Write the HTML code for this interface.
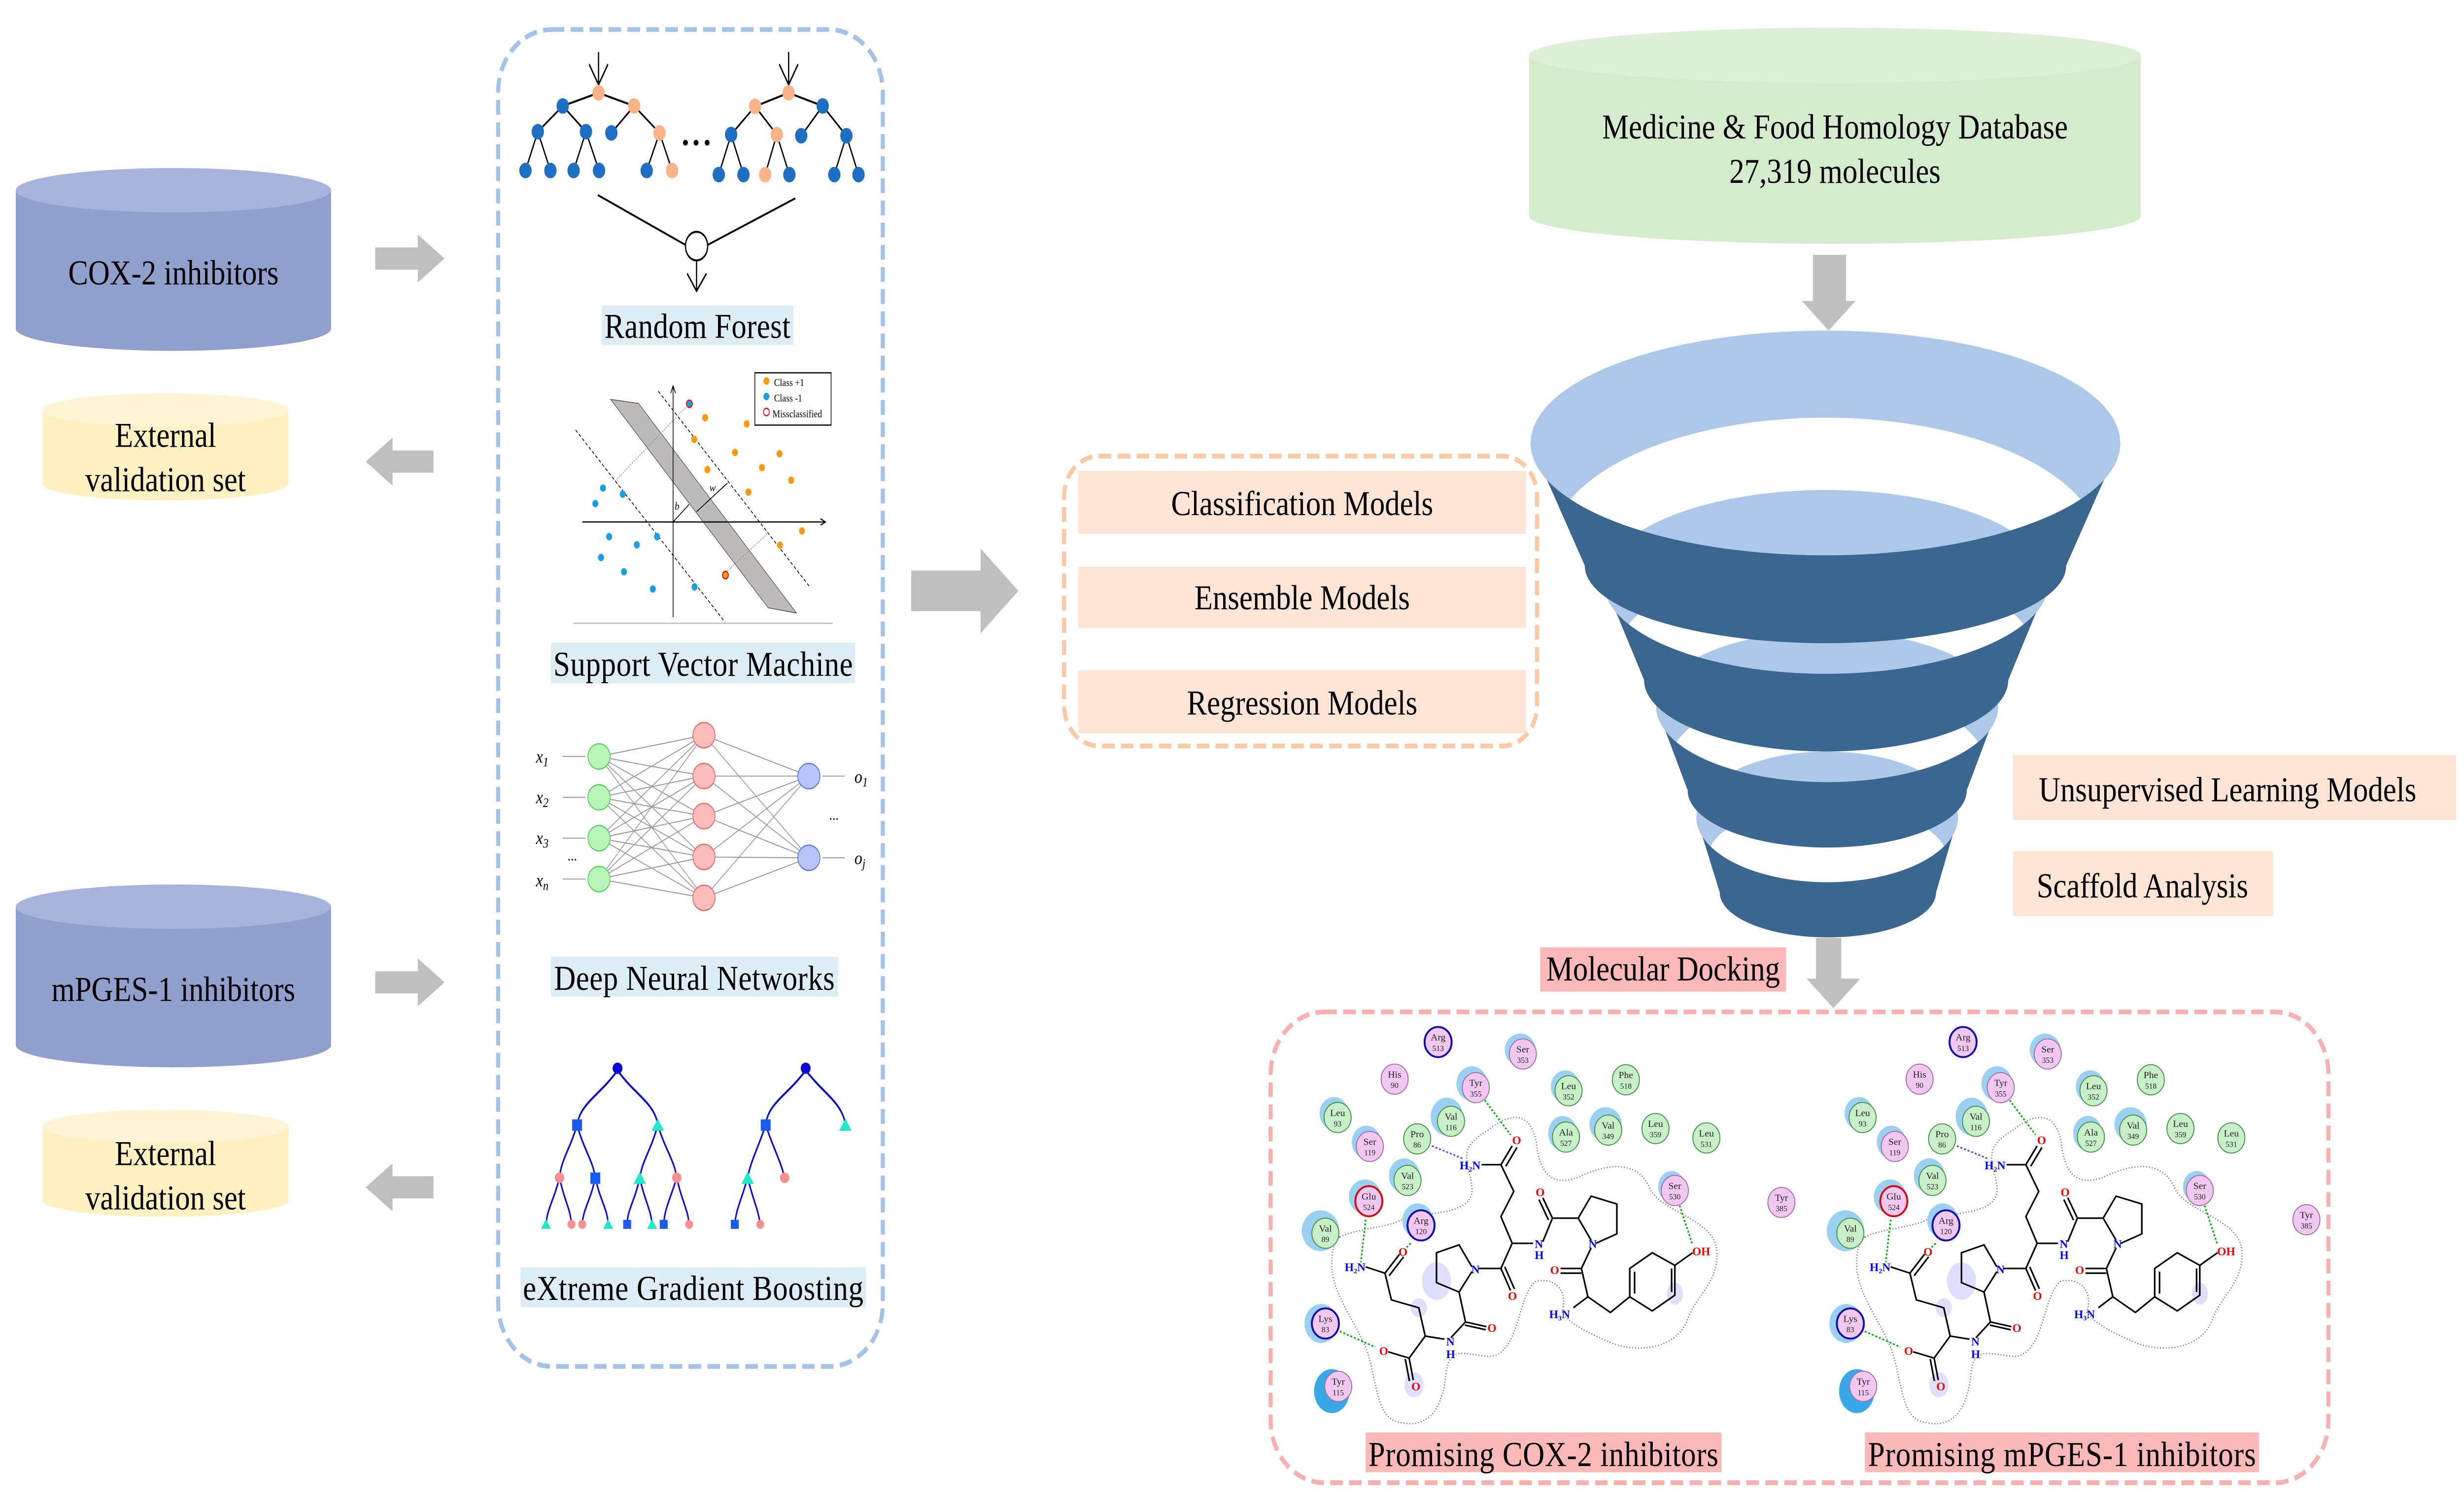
<!DOCTYPE html>
<html><head><meta charset="utf-8">
<style>
html,body{margin:0;padding:0;background:#fff;overflow:hidden;width:100vw;height:100vh;}
svg{display:block;width:100vw;height:100vh;}
text{font-family:"Liberation Serif",serif;}
</style></head>
<body>
<svg xmlns="http://www.w3.org/2000/svg" viewBox="0 0 1563 814.5" preserveAspectRatio="none">
<rect width="1563" height="814.5" fill="#fff"/>

<g>
  <path d="M10,103 L10,178 A100,12 0 0,0 210,178 L210,103 Z" fill="#919fcd"/>
  <ellipse cx="110" cy="103" rx="100" ry="12" fill="#a7b3da"/>
  <text x="110" y="154" font-size="19" text-anchor="middle">COX-2 inhibitors</text>

  <path d="M27,222 L27,262 A78,9 0 0,0 183,262 L183,222 Z" fill="#fff0c2"/>
  <ellipse cx="105" cy="222" rx="78" ry="9" fill="#fff5d6"/>
  <text x="105" y="242" font-size="19" text-anchor="middle">External</text>
  <text x="105" y="266" font-size="19" text-anchor="middle">validation set</text>

  <path d="M10,491 L10,566 A100,12 0 0,0 210,566 L210,491 Z" fill="#919fcd"/>
  <ellipse cx="110" cy="491" rx="100" ry="12" fill="#a7b3da"/>
  <text x="110" y="542" font-size="19" text-anchor="middle">mPGES-1 inhibitors</text>

  <path d="M27,610 L27,650 A78,9 0 0,0 183,650 L183,610 Z" fill="#fff0c2"/>
  <ellipse cx="105" cy="610" rx="78" ry="9" fill="#fff5d6"/>
  <text x="105" y="631" font-size="19" text-anchor="middle">External</text>
  <text x="105" y="655" font-size="19" text-anchor="middle">validation set</text>
</g>

<g fill="#bfbfbf">
  <polygon points="238,134 265,134 265,127 282,140 265,153 265,146 238,146"/>
  <polygon points="275,244 249,244 249,237 232,250 249,263 249,256 275,256"/>
  <polygon points="238,526 265,526 265,519 282,532 265,545 265,538 238,538"/>
  <polygon points="275,637 249,637 249,630 232,643 249,656 249,649 275,649"/>
  <polygon points="578,309 622,309 622,297 646,320 622,343 622,331 578,331"/>
  <polygon points="1150,138 1171,138 1171,163 1177,163 1160,179 1143,163 1150,163"/>
  <polygon points="1152,508 1168,508 1168,530 1180,530 1163,546 1146,530 1152,530"/>
</g>

<rect x="316" y="16" width="244" height="724" rx="34" fill="none" stroke="#a4c2e6" stroke-width="2.6" stroke-dasharray="8,4"/>

<g transform="translate(315,16) scale(0.1566,0.2213)">
  <g stroke="#000" stroke-width="5" fill="none">
    <path d="M413,155 L268,187 M413,155 L557,187 M268,187 L167,250 M268,187 L362,250 M557,187 L465,253 M557,187 L660,253 M167,250 L117,345 M167,250 L218,345 M362,250 L312,345 M362,250 L415,345 M660,253 L608,345 M660,253 L711,345"/>
    <path d="M1183,155 L1047,188 M1183,155 L1321,187 M1047,188 L950,257 M1047,188 L1135,257 M1321,187 L1234,260 M1321,187 L1417,260 M950,257 L900,355 M950,257 L1000,355 M1135,257 L1088,355 M1135,257 L1186,355 M1417,260 L1368,355 M1417,260 L1466,355"/>
    <path d="M413,55 L413,135 M375,85 L413,135 L451,85 M1183,55 L1183,135 M1145,85 L1183,135 L1221,85"/>
    <path d="M410,405 L765,527 M1210,413 L855,527 M810,565 L810,640 M772,597 L810,640 L850,597"/>
  </g>
  <ellipse cx="810" cy="530" rx="45" ry="35" fill="#fff" stroke="#000" stroke-width="5"/>
  <g fill="#1f6fc5">
    <ellipse cx="268" cy="187" rx="25" ry="19"/><ellipse cx="167" cy="250" rx="25" ry="19"/><ellipse cx="362" cy="250" rx="25" ry="19"/><ellipse cx="465" cy="253" rx="25" ry="19"/>
    <ellipse cx="117" cy="345" rx="25" ry="19"/><ellipse cx="218" cy="345" rx="25" ry="19"/><ellipse cx="312" cy="345" rx="25" ry="19"/><ellipse cx="415" cy="345" rx="25" ry="19"/><ellipse cx="608" cy="345" rx="25" ry="19"/>
    <ellipse cx="1321" cy="187" rx="25" ry="19"/><ellipse cx="950" cy="257" rx="25" ry="19"/><ellipse cx="1234" cy="260" rx="25" ry="19"/><ellipse cx="1417" cy="260" rx="25" ry="19"/>
    <ellipse cx="900" cy="355" rx="25" ry="19"/><ellipse cx="1000" cy="355" rx="25" ry="19"/><ellipse cx="1186" cy="355" rx="25" ry="19"/><ellipse cx="1368" cy="355" rx="25" ry="19"/><ellipse cx="1466" cy="355" rx="25" ry="19"/>
  </g>
  <g fill="#fbb48a">
    <ellipse cx="413" cy="155" rx="25" ry="19"/><ellipse cx="557" cy="187" rx="25" ry="19"/><ellipse cx="660" cy="253" rx="25" ry="19"/><ellipse cx="711" cy="345" rx="25" ry="19"/>
    <ellipse cx="1183" cy="155" rx="25" ry="19"/><ellipse cx="1047" cy="188" rx="25" ry="19"/><ellipse cx="1135" cy="257" rx="25" ry="19"/><ellipse cx="1088" cy="355" rx="25" ry="19"/>
  </g>
  <g fill="#000"><ellipse cx="765" cy="277" rx="10" ry="7"/><ellipse cx="808" cy="277" rx="10" ry="7"/><ellipse cx="853" cy="277" rx="10" ry="7"/></g>

  <line x1="312" y1="1453" x2="1362" y2="1453" stroke="#bbb" stroke-width="3"/>
  <polygon points="462,905 575,915 1215,1428 1100,1415" fill="#bdbaba" stroke="#555" stroke-width="2"/>
  <g stroke="#000" stroke-width="3" fill="none">
    <path d="M715,1438 L715,875 M705,890 L715,872 L725,890"/>
    <path d="M347,1205 L1330,1205 M1312,1197 L1332,1205 L1312,1213"/>
    <path d="M655,885 L1270,1365 M320,980 L925,1450" stroke-dasharray="10,7" stroke-width="2.5"/>
    <path d="M715,1205 L780,1162 M810,1180 L935,1110" stroke-width="2.5"/>
    <path d="M480,1105 L770,922 M935,1325 L1100,1232" stroke="#888" stroke-width="2" stroke-dasharray="5,4"/>
  </g>
  <rect x="1046" y="840" width="309" height="128" fill="#fff" stroke="#000" stroke-width="3"/>
  <ellipse cx="1093" cy="860" rx="12" ry="9" fill="#f79a10"/>
  <ellipse cx="1093" cy="898" rx="12" ry="9" fill="#1aa0e0"/>
  <ellipse cx="1093" cy="936" rx="12" ry="9" fill="#fff" stroke="#e00" stroke-width="3"/>
  <g fill="#f79a10">
    <ellipse cx="845" cy="950" rx="12" ry="9"/><ellipse cx="1013" cy="965" rx="12" ry="9"/><ellipse cx="801" cy="1003" rx="12" ry="9"/><ellipse cx="966" cy="1035" rx="12" ry="9"/><ellipse cx="1146" cy="1038" rx="12" ry="9"/><ellipse cx="854" cy="1077" rx="12" ry="9"/><ellipse cx="1075" cy="1072" rx="12" ry="9"/><ellipse cx="1193" cy="1103" rx="12" ry="9"/><ellipse cx="1020" cy="1132" rx="12" ry="9"/><ellipse cx="1237" cy="1227" rx="12" ry="9"/><ellipse cx="1148" cy="1262" rx="12" ry="9"/><ellipse cx="927" cy="1335" rx="12" ry="9" stroke="#e00" stroke-width="3"/>
  </g>
  <g fill="#1aa0e0">
    <ellipse cx="781" cy="916" rx="12" ry="9" stroke="#e00" stroke-width="3"/><ellipse cx="431" cy="1122" rx="12" ry="9"/><ellipse cx="511" cy="1137" rx="12" ry="9"/><ellipse cx="400" cy="1160" rx="12" ry="9"/><ellipse cx="456" cy="1241" rx="12" ry="9"/><ellipse cx="568" cy="1261" rx="12" ry="9"/><ellipse cx="650" cy="1241" rx="12" ry="9"/><ellipse cx="423" cy="1292" rx="12" ry="9"/><ellipse cx="516" cy="1327" rx="12" ry="9"/><ellipse cx="633" cy="1369" rx="12" ry="9"/><ellipse cx="802" cy="1364" rx="12" ry="9"/>
  </g>
</g>
<g font-size="5.5">
  <text x="491" y="209">Class +1</text>
  <text x="491" y="217.5">Class  -1</text>
  <text x="490" y="226">Missclassified</text>
  <text x="428" y="276" font-style="italic" font-size="6">b</text>
  <text x="450" y="266" font-style="italic" font-size="6">w</text>
</g>

<g transform="translate(315,387.1) scale(0.1566,0.2213)">
  <g stroke="#999" stroke-width="2.5" fill="none">
    <path d="M415,102 L840,50 M415,102 L840,150 M415,102 L840,248 M415,102 L840,348 M415,102 L840,448
             M415,202 L840,50 M415,202 L840,150 M415,202 L840,248 M415,202 L840,348 M415,202 L840,448
             M415,302 L840,50 M415,302 L840,150 M415,302 L840,248 M415,302 L840,348 M415,302 L840,448
             M415,402 L840,50 M415,402 L840,150 M415,402 L840,248 M415,402 L840,348 M415,402 L840,448
             M840,50 L1265,150 M840,150 L1265,150 M840,248 L1265,150 M840,348 L1265,150 M840,448 L1265,150
             M840,50 L1265,350 M840,150 L1265,350 M840,248 L1265,350 M840,348 L1265,350 M840,448 L1265,350
             M268,102 L360,102 M268,202 L360,202 M268,302 L360,302 M268,402 L360,402
             M1320,150 L1410,150 M1320,350 L1410,350"/>
  </g>
  <g fill="#b9f5b9" stroke="#5c5" stroke-width="3">
    <ellipse cx="415" cy="102" rx="45" ry="31"/><ellipse cx="415" cy="202" rx="45" ry="31"/><ellipse cx="415" cy="302" rx="45" ry="31"/><ellipse cx="415" cy="402" rx="45" ry="31"/>
  </g>
  <g fill="#fdbcbc" stroke="#e66" stroke-width="3">
    <ellipse cx="840" cy="50" rx="45" ry="31"/><ellipse cx="840" cy="150" rx="45" ry="31"/><ellipse cx="840" cy="248" rx="45" ry="31"/><ellipse cx="840" cy="348" rx="45" ry="31"/><ellipse cx="840" cy="448" rx="45" ry="31"/>
  </g>
  <g fill="#b8c4fa" stroke="#57e" stroke-width="3">
    <ellipse cx="1265" cy="150" rx="45" ry="31"/><ellipse cx="1265" cy="350" rx="45" ry="31"/>
  </g>

  <g stroke="#1010c0" stroke-width="6" fill="none">
    <path d="M490,870 C420,930 340,950 326,1003 M490,870 C560,930 640,950 653,1003"/>
    <path d="M326,1003 C300,1060 260,1090 255,1133 M326,1003 C350,1060 390,1090 400,1133"/>
    <path d="M653,1003 C630,1060 590,1090 580,1133 M653,1003 C680,1060 720,1090 730,1133"/>
    <path d="M255,1133 C230,1190 205,1210 200,1247 M255,1133 C275,1190 300,1210 303,1247"/>
    <path d="M400,1133 C380,1190 350,1210 347,1247 M400,1133 C420,1190 450,1210 452,1247"/>
    <path d="M580,1133 C560,1190 530,1210 529,1247 M580,1133 C600,1190 625,1210 630,1247"/>
    <path d="M730,1133 C700,1190 680,1210 677,1247 M730,1133 C750,1190 775,1210 780,1247"/>
    <path d="M1252,870 C1180,930 1100,950 1090,1003 M1252,870 C1330,930 1400,950 1413,1003"/>
    <path d="M1090,1003 C1060,1060 1030,1090 1017,1133 M1090,1003 C1120,1060 1150,1090 1167,1133"/>
    <path d="M1017,1133 C990,1190 970,1210 965,1247 M1017,1133 C1040,1190 1060,1210 1068,1247"/>
  </g>
  <ellipse cx="490" cy="865" rx="20" ry="14" fill="#0a0ad0"/>
  <ellipse cx="1252" cy="865" rx="20" ry="14" fill="#0a0ad0"/>
  <g fill="#1a5cf0">
    <rect x="306" y="990" width="40" height="28"/><rect x="380" y="1120" width="40" height="28"/><rect x="513" y="1236" width="32" height="22"/><rect x="661" y="1236" width="32" height="22"/>
    <rect x="1070" y="990" width="40" height="28"/><rect x="949" y="1236" width="32" height="22"/>
  </g>
  <g fill="#20e8c8">
    <polygon points="653,988 678,1018 628,1018"/><polygon points="580,1118 605,1148 555,1148"/><polygon points="200,1234 220,1258 180,1258"/><polygon points="452,1234 472,1258 432,1258"/><polygon points="630,1234 650,1258 610,1258"/>
    <polygon points="1413,988 1438,1018 1388,1018"/><polygon points="1017,1118 1042,1148 992,1148"/>
  </g>
  <g fill="#f89090">
    <ellipse cx="255" cy="1133" rx="19" ry="13"/><ellipse cx="730" cy="1133" rx="19" ry="13"/><ellipse cx="1167" cy="1133" rx="19" ry="13"/>
    <ellipse cx="303" cy="1247" rx="16" ry="11"/><ellipse cx="347" cy="1247" rx="16" ry="11"/><ellipse cx="780" cy="1247" rx="16" ry="11"/><ellipse cx="1068" cy="1247" rx="16" ry="11"/>
  </g>
</g>
<g font-size="10" font-style="italic" font-family="Liberation Serif, serif">
  <text x="340" y="413">x<tspan font-size="7" dy="2">1</tspan></text>
  <text x="340" y="435">x<tspan font-size="7" dy="2">2</tspan></text>
  <text x="340" y="457">x<tspan font-size="7" dy="2">3</tspan></text>
  <text x="360" y="466" font-style="normal" font-size="8">...</text>
  <text x="340" y="480">x<tspan font-size="7" dy="2">n</tspan></text>
  <text x="542" y="424">o<tspan font-size="7" dy="2">1</tspan></text>
  <text x="526" y="444" font-style="normal" font-size="8">...</text>
  <text x="542" y="468">o<tspan font-size="7" dy="2">j</tspan></text>
</g>

<rect x="381.6" y="165.4" width="121.6" height="21.4" fill="#dcedf6"/>
<text x="442.4" y="183" font-size="19" text-anchor="middle" textLength="118">Random Forest</text>
<rect x="349.5" y="348" width="193" height="22" fill="#dcedf6"/>
<text x="446" y="366" font-size="19" text-anchor="middle" textLength="190">Support Vector Machine</text>
<rect x="349.5" y="518.1" width="182" height="21.7" fill="#dcedf6"/>
<text x="440.5" y="536" font-size="19" text-anchor="middle" textLength="178">Deep Neural Networks</text>
<rect x="330.2" y="686.3" width="219" height="21.7" fill="#dcedf6"/>
<text x="439.7" y="704" font-size="19" text-anchor="middle" textLength="216">eXtreme Gradient Boosting</text>

<rect x="675" y="247" width="300" height="157" rx="22" fill="none" stroke="#fcc9a6" stroke-width="2.6" stroke-dasharray="8,4"/>
<rect x="684" y="255" width="284" height="34" fill="#fde4d4"/>
<text x="826" y="279" font-size="19" text-anchor="middle">Classification Models</text>
<rect x="684" y="307" width="284" height="33" fill="#fde4d4"/>
<text x="826" y="330" font-size="19" text-anchor="middle">Ensemble Models</text>
<rect x="684" y="363" width="284" height="34" fill="#fde4d4"/>
<text x="826" y="387" font-size="19" text-anchor="middle">Regression Models</text>

<path d="M970,30 L970,117 A194,15 0 0,0 1358,117 L1358,30 Z" fill="#d4ebcd"/>
<ellipse cx="1164" cy="30" rx="194" ry="15" fill="#ddf0d7"/>
<text x="1164" y="75" font-size="19" text-anchor="middle">Medicine &amp; Food Homology Database</text>
<text x="1164" y="99" font-size="19" text-anchor="middle">27,319 molecules</text>

<defs>
  <clipPath id="c1"><ellipse cx="890" cy="300" rx="845" ry="275"/></clipPath>
  <clipPath id="c2"><ellipse cx="892" cy="640" rx="638" ry="225"/></clipPath>
  <clipPath id="c3"><ellipse cx="895" cy="945" rx="490" ry="185"/></clipPath>
  <clipPath id="c4"><ellipse cx="895" cy="1215" rx="375" ry="160"/></clipPath>
</defs>
<g transform="translate(961,173.5) scale(0.2213)">
  <path d="M520,1215 L587,1400 A310,110 0 0,0 1207,1400 L1270,1215 A375,160 0 0,1 520,1215 Z" fill="#3b6690"/>
  <path clip-path="url(#c4)" fill-rule="evenodd" fill="#adc7e8" d="M520,1215 a375,160 0 1,0 750,0 a375,160 0 1,0 -750,0 Z M545,1330 a350,150 0 1,0 700,0 a350,150 0 1,0 -700,0 Z"/>
  <path d="M405,945 L495,1150 A400,140 0 0,0 1295,1150 L1385,945 A490,185 0 0,1 405,945 Z" fill="#3b6690"/>
  <path clip-path="url(#c3)" fill-rule="evenodd" fill="#adc7e8" d="M405,945 a490,185 0 1,0 980,0 a490,185 0 1,0 -980,0 Z M435,1100 a460,200 0 1,0 920,0 a460,200 0 1,0 -920,0 Z"/>
  <path d="M254,640 L370,880 A522,175 0 0,0 1414,880 L1530,640 A638,225 0 0,1 254,640 Z" fill="#3b6690"/>
  <path clip-path="url(#c2)" fill-rule="evenodd" fill="#adc7e8" d="M254,640 a638,225 0 1,0 1276,0 a638,225 0 1,0 -1276,0 Z M292,820 a600,230 0 1,0 1200,0 a600,230 0 1,0 -1200,0 Z"/>
  <path d="M45,300 L200,600 A690,190 0 0,0 1580,600 L1735,300 A845,275 0 0,1 45,300 Z" fill="#3b6690"/>
  <path clip-path="url(#c1)" fill-rule="evenodd" fill="#adc7e8" d="M45,300 a845,275 0 1,0 1690,0 a845,275 0 1,0 -1690,0 Z M100,560 a790,322 0 1,0 1580,0 a790,322 0 1,0 -1580,0 Z"/>
</g>

<rect x="1277" y="409" width="281" height="35" fill="#fde4d4"/>
<text x="1413" y="434" font-size="19" text-anchor="middle">Unsupervised Learning Models</text>
<rect x="1277" y="461" width="165" height="35" fill="#fde4d4"/>
<text x="1359" y="486" font-size="19" text-anchor="middle">Scaffold Analysis</text>

<rect x="977" y="513" width="156" height="24" fill="#fbb8b8"/>
<text x="1055" y="531" font-size="19" text-anchor="middle">Molecular Docking</text>

<rect x="806" y="548" width="671" height="255" rx="34" fill="none" stroke="#f9b0b0" stroke-width="2.6" stroke-dasharray="8,4"/>

<defs>
<g id="mol">
  <path d="M240,720 C300,690 400,690 440,660 C520,640 660,650 650,560 C640,480 600,440 700,380 C760,330 830,310 850,420 C860,520 900,560 980,530 C1060,490 1160,470 1200,560 C1230,640 1400,660 1410,760 C1420,860 1350,900 1320,980 C1290,1070 1180,1090 1090,1060 C1000,1020 960,1000 930,960 C950,880 900,850 850,860 C790,900 800,1100 700,1100 C620,1090 580,1070 570,1150 C560,1260 520,1330 430,1310 C360,1300 360,1220 330,1100 C300,1000 210,900 215,800 C215,760 225,730 240,720 Z" fill="none" stroke="#777" stroke-width="4" stroke-dasharray="3,6"/>
  <g fill="#c9c9ff" opacity="0.6">
    <ellipse cx="540" cy="860" rx="45" ry="60"/><ellipse cx="470" cy="1190" rx="30" ry="40"/><ellipse cx="1280" cy="900" rx="25" ry="35"/><ellipse cx="485" cy="945" rx="25" ry="30"/>
  </g>
  <g stroke="#000" stroke-width="5" fill="none">
    <path d="M680,490 L740,490 L775,430 M755,495 L790,435 M740,490 L780,575 L740,655 L775,740 L840,740 M775,740 L740,820 L770,890 M752,815 L782,885 M740,820 L670,820"/>
    <path d="M650,815 L610,745 L540,770 L540,865 L610,895 L650,830 M610,895 L630,990 L695,1005 M628,1000 L693,1015 M630,990 L585,1040"/>
    <path d="M565,1045 L505,1035 L485,945 L400,920 L380,835 L425,775 M393,843 L438,783 M380,835 L320,815 M505,1035 L455,1105 L468,1175 M443,1108 L456,1178 M455,1105 L390,1085"/>
    <path d="M870,735 L900,660 L870,595 M888,666 L858,601 M900,660 L980,660 L1020,730 M980,660 L1020,590 L1100,615 L1100,710 L1035,740"/>
    <path d="M1020,755 L990,820 L925,820 M990,835 L925,835 M990,820 L1010,910 L965,945 M1010,910 L1080,960 L1140,910 L1140,820 L1210,770 L1280,810 L1280,905 L1210,955 L1140,910 M1155,900 L1155,830 M1270,820 L1270,895 M1280,810 L1335,770"/>
  </g>
  <g font-family="Liberation Sans, sans-serif" font-size="36" font-weight="bold">
    <text x="775" y="425" fill="#e00">O</text><text x="612" y="505" fill="#00f">H₂N</text>
    <text x="845" y="755" fill="#00f">N</text><text x="845" y="790" fill="#00f">H</text>
    <text x="762" y="920" fill="#e00">O</text><text x="648" y="835" fill="#00f">N</text>
    <text x="698" y="1022" fill="#e00">O</text><text x="570" y="1065" fill="#00f">N</text><text x="570" y="1105" fill="#00f">H</text>
    <text x="422" y="780" fill="#e00">O</text><text x="255" y="828" fill="#00f">H₂N</text>
    <text x="462" y="1208" fill="#e00">O</text><text x="362" y="1095" fill="#e00">O</text>
    <text x="848" y="590" fill="#e00">O</text><text x="1012" y="755" fill="#00f">N</text>
    <text x="893" y="838" fill="#e00">O</text><text x="890" y="978" fill="#00f">H₃N</text>
    <text x="1334" y="778" fill="#e00">OH</text>
  </g>
  <g stroke-width="5" fill="none" stroke-dasharray="6,6">
    <path d="M690,285 L770,395 M320,665 L305,800 M460,740 L440,760 M240,1020 L350,1070 M1295,620 L1335,745" stroke="#0a0"/>
    <path d="M620,470 L525,430" stroke="#44f"/>
  </g>
  <g fill="#9cd0f2">
    <ellipse cx="800" cy="125" rx="48" ry="52"/><ellipse cx="650" cy="232" rx="48" ry="55"/><ellipse cx="940" cy="242" rx="45" ry="52"/>
    <ellipse cx="222" cy="327" rx="45" ry="52"/><ellipse cx="572" cy="337" rx="50" ry="60"/><ellipse cx="322" cy="418" rx="45" ry="52"/>
    <ellipse cx="932" cy="390" rx="45" ry="55"/><ellipse cx="1065" cy="362" rx="50" ry="55"/><ellipse cx="440" cy="525" rx="48" ry="55"/>
    <ellipse cx="318" cy="592" rx="50" ry="55"/><ellipse cx="482" cy="668" rx="48" ry="55"/><ellipse cx="1270" cy="560" rx="42" ry="50"/>
    <ellipse cx="180" cy="700" rx="58" ry="65"/><ellipse cx="182" cy="995" rx="52" ry="62"/><ellipse cx="215" cy="1210" rx="55" ry="70" fill="#39a8e8"/>
  </g>
  <g font-family="Liberation Sans, sans-serif" font-size="30" text-anchor="middle" stroke-width="3">
    <g fill="#f2c8f2" stroke="#a070a0">
      <ellipse cx="545" cy="100" rx="42" ry="48" stroke="#1010b0" stroke-width="6"/>
      <ellipse cx="808" cy="138" rx="42" ry="48"/><ellipse cx="410" cy="218" rx="42" ry="48"/><ellipse cx="662" cy="245" rx="42" ry="48"/>
      <ellipse cx="333" cy="432" rx="42" ry="48"/><ellipse cx="330" cy="606" rx="42" ry="48" stroke="#d01010" stroke-width="6"/>
      <ellipse cx="492" cy="683" rx="42" ry="48" stroke="#1010b0" stroke-width="6"/><ellipse cx="1280" cy="572" rx="42" ry="48"/>
      <ellipse cx="195" cy="995" rx="42" ry="48" stroke="#1010b0" stroke-width="6"/><ellipse cx="235" cy="1195" rx="42" ry="48"/>
    </g>
    <g fill="#c8f0c8" stroke="#4a904a">
      <ellipse cx="950" cy="255" rx="42" ry="48"/><ellipse cx="1128" cy="220" rx="42" ry="48"/><ellipse cx="233" cy="340" rx="42" ry="48"/>
      <ellipse cx="585" cy="352" rx="42" ry="48"/><ellipse cx="480" cy="408" rx="42" ry="48"/><ellipse cx="942" cy="402" rx="42" ry="48"/>
      <ellipse cx="1073" cy="380" rx="42" ry="48"/><ellipse cx="1220" cy="375" rx="42" ry="48"/><ellipse cx="1378" cy="405" rx="42" ry="48"/>
      <ellipse cx="450" cy="540" rx="42" ry="48"/><ellipse cx="195" cy="708" rx="42" ry="48"/>
    </g>
    <g fill="#222" stroke="none">
      <text x="545" y="95">Arg</text><text x="545" y="128" font-size="24">513</text>
      <text x="808" y="133">Ser</text><text x="808" y="166" font-size="24">353</text>
      <text x="410" y="213">His</text><text x="410" y="246" font-size="24">90</text>
      <text x="662" y="240">Tyr</text><text x="662" y="273" font-size="24">355</text>
      <text x="333" y="427">Ser</text><text x="333" y="460" font-size="24">119</text>
      <text x="330" y="601">Glu</text><text x="330" y="634" font-size="24">524</text>
      <text x="492" y="678">Arg</text><text x="492" y="711" font-size="24">120</text>
      <text x="1280" y="567">Ser</text><text x="1280" y="600" font-size="24">530</text>
      <text x="195" y="990">Lys</text><text x="195" y="1023" font-size="24">83</text>
      <text x="235" y="1190">Tyr</text><text x="235" y="1223" font-size="24">115</text>
      <text x="950" y="250">Leu</text><text x="950" y="283" font-size="24">352</text>
      <text x="1128" y="215">Phe</text><text x="1128" y="248" font-size="24">518</text>
      <text x="233" y="335">Leu</text><text x="233" y="368" font-size="24">93</text>
      <text x="585" y="347">Val</text><text x="585" y="380" font-size="24">116</text>
      <text x="480" y="403">Pro</text><text x="480" y="436" font-size="24">86</text>
      <text x="942" y="397">Ala</text><text x="942" y="430" font-size="24">527</text>
      <text x="1073" y="375">Val</text><text x="1073" y="408" font-size="24">349</text>
      <text x="1220" y="370">Leu</text><text x="1220" y="403" font-size="24">359</text>
      <text x="1378" y="400">Leu</text><text x="1378" y="433" font-size="24">531</text>
      <text x="450" y="535">Val</text><text x="450" y="568" font-size="24">523</text>
      <text x="195" y="703">Val</text><text x="195" y="736" font-size="24">89</text>
    </g>
  </g>
</g>
</defs>
<g transform="translate(800.9,547.3) scale(0.2043,0.1703)"><use href="#mol"/>
  <g font-family="Liberation Sans, sans-serif" font-size="30" text-anchor="middle">
    <ellipse cx="1611" cy="610" rx="42" ry="48" fill="#f2c8f2" stroke="#a070a0" stroke-width="3"/>
    <text x="1611" y="605" fill="#222">Tyr</text><text x="1611" y="638" font-size="24" fill="#222">385</text>
  </g>
</g>
<g transform="translate(1133.9,547.3) scale(0.2043,0.1703)"><use href="#mol"/>
  <g font-family="Liberation Sans, sans-serif" font-size="30" text-anchor="middle">
    <ellipse cx="1611" cy="665" rx="42" ry="48" fill="#f2c8f2" stroke="#a070a0" stroke-width="3"/>
    <text x="1611" y="660" fill="#222">Tyr</text><text x="1611" y="693" font-size="24" fill="#222">385</text>
  </g>
</g>

<rect x="866.3" y="775.8" width="225.7" height="21.5" fill="#fbb8b8"/>
<text x="979" y="794" font-size="19" text-anchor="middle" textLength="222">Promising COX-2 inhibitors</text>
<rect x="1183" y="775.8" width="250" height="21.5" fill="#fbb8b8"/>
<text x="1308" y="794" font-size="19" text-anchor="middle" textLength="246">Promising mPGES-1 inhibitors</text>
</svg>
</body></html>
